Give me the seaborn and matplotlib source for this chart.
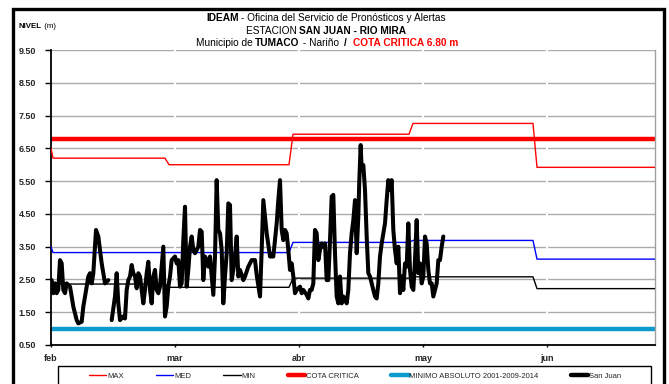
import numpy as np
import pandas as pd
import matplotlib
matplotlib.use("Agg")
import matplotlib.pyplot as plt
from matplotlib.lines import Line2D
from matplotlib.patches import Rectangle
import seaborn as sns

# ---------------- data ----------------
month_labels = ["feb", "mar", "abr", "may", "jun"]
month_ticks = [0, 31, 62, 93, 124]

ref_days = [0, 0.5, 28.5, 29.5, 59.5, 60.5, 89.5, 90.5, 120.5, 121.5, 151]
max_vals = [6.5, 6.2, 6.2, 6.0, 6.0, 6.93, 6.93, 7.26, 7.26, 5.92, 5.92]
med_vals = [3.5, 3.32, 3.32, 3.32, 3.32, 3.63, 3.63, 3.69, 3.69, 3.12, 3.12]
min_vals = [2.36, 2.36, 2.36, 2.26, 2.26, 2.54, 2.54, 2.58, 2.58, 2.22, 2.22]
cota_critica = 6.8
minimo_absoluto = 1.0

# San Juan observed levels (two segments, gap in record)
sj_days_a = [0.17, 0.58, 1.0, 1.42, 1.83, 2.25, 2.67, 3.08, 3.5, 3.92, 4.75, 5.17, 5.58,
             6.42, 6.83, 7.67, 8.08, 8.92, 9.33, 9.75, 10.17, 10.58, 11.25, 11.83, 12.67,
             13.08, 13.5, 14.33]
sj_vals_a = [2.48, 2.08, 2.38, 2.08, 2.18, 3.09, 2.99, 2.18, 2.08, 2.38, 2.28, 1.98, 1.67,
             1.26, 1.16, 1.21, 1.67, 2.28, 2.59, 2.69, 2.38, 2.69, 4.01, 3.81, 2.99,
             2.69, 2.38, 2.48]
sj_days_b = [15.17, 16.0, 16.42, 16.83, 17.25, 18.08, 18.5, 18.92, 19.33, 19.75, 20.17, 20.58,
             21.0, 21.42, 21.83, 22.25, 22.67, 23.08, 23.5, 23.92, 24.33, 24.75, 25.17, 25.58,
             26.0, 26.42, 26.83, 27.25, 27.67, 28.08, 28.5, 28.92, 29.33, 29.75, 30.17, 31.0,
             31.42, 31.83, 32.25, 32.67, 33.08, 33.5, 33.92, 34.33, 34.75, 35.17, 35.58, 36.0,
             36.42, 36.83, 37.25, 37.67, 38.08, 38.5, 38.92, 39.33, 39.75, 40.17, 40.58, 41.0,
             41.42, 41.83, 42.25, 42.67, 43.08, 43.5, 43.92, 44.33, 44.75, 45.17, 45.58, 46.0,
             46.42, 46.83, 47.25, 48.08, 48.5, 49.33, 50.17, 51.0, 51.42, 52.25, 52.67, 53.08,
             53.92, 54.75, 55.58, 56.42, 56.83, 57.25, 57.67, 58.08, 58.5, 58.92, 59.33, 59.75,
             60.17, 60.58, 61.0, 61.42, 62.25, 62.67, 63.08, 63.92, 64.33, 64.75, 65.17, 65.58,
             66.0, 66.42, 66.83, 67.25, 67.67, 68.08, 68.5, 68.92, 69.33, 69.75, 70.17, 70.58,
             71.0, 71.42, 71.83, 72.25, 72.67, 73.08, 73.5, 73.92, 74.33, 74.75, 75.17, 75.58,
             76.0, 76.42, 76.83, 77.08, 77.42, 77.67, 78.08, 78.5, 78.92, 79.33, 79.75, 80.17,
             80.58, 81.0, 81.42, 81.83, 82.25, 82.67, 83.08, 83.5, 83.92, 84.33, 84.75, 85.17,
             85.58, 86.0, 86.42, 86.83, 87.25, 87.67, 88.08, 88.5, 88.92, 89.33, 89.75, 90.17,
             90.58, 91.0, 91.42, 91.83, 92.25, 92.67, 93.08, 93.5, 93.92, 94.33, 94.75, 95.17,
             95.58, 96.0, 96.42, 96.83, 97.25, 97.67, 98.08]
sj_vals_b = [1.26, 1.98, 2.69, 1.77, 1.26, 1.37, 1.31, 2.18, 2.48, 2.59, 2.94, 2.69,
             2.59, 2.23, 2.69, 2.59, 2.18, 1.77, 2.18, 2.69, 3.04, 2.18, 1.77, 2.59,
             2.79, 2.18, 2.08, 2.28, 2.89, 3.5, 1.37, 1.67, 2.28, 2.59, 3.09, 3.2,
             2.99, 3.09, 2.28, 2.38, 3.70, 4.72, 2.28, 2.79, 3.5, 3.81, 3.4, 3.30,
             3.4, 3.5, 4.01, 3.96, 2.48, 3.2, 3.09, 2.89, 3.2, 2.59, 2.03, 3.2,
             5.53, 4.01, 3.91, 3.4, 1.77, 2.59, 3.30, 4.82, 4.77, 2.48, 2.79, 3.2,
             3.81, 2.59, 2.79, 2.48, 2.59, 2.89, 3.09, 3.09, 2.64, 1.98, 3.4, 4.92,
             3.91, 3.2, 3.2, 4.21, 4.92, 5.53, 4.01, 3.70, 4.01, 3.91, 3.4, 2.79,
             2.99, 2.59, 2.08, 2.18, 2.28, 2.08, 2.18, 2.03, 1.92, 2.18, 2.18, 2.38,
             4.01, 3.91, 3.09, 3.4, 3.60, 3.5, 3.60, 2.48, 2.48, 3.70, 5.03, 5.08,
             3.30, 1.98, 1.77, 2.59, 1.77, 1.98, 1.87, 1.77, 2.18, 3.30, 3.91, 4.31,
             4.92, 3.30, 4.42, 5.53, 6.6, 5.84, 5.99, 5.23, 3.81, 2.69, 2.59, 2.38,
             2.18, 1.98, 1.92, 2.38, 3.2, 3.60, 3.91, 4.21, 4.92, 5.53, 5.23, 5.53,
             4.01, 3.4, 2.99, 3.5, 2.08, 2.59, 2.18, 2.99, 2.89, 4.21, 2.79, 2.28,
             2.18, 3.09, 4.31, 2.69, 2.99, 2.38, 2.59, 3.81, 3.60, 2.79, 2.38, 2.38,
             1.98, 2.18, 2.38, 3.09, 3.09, 3.5, 3.81]

legend_labels = ["MAX", "MED", "MIN", "COTA CRITICA", "MINIMO ABSOLUTO 2001-2009-2014", "San Juan"]

# ---------------- figure ----------------
W, H = 669, 384
sns.set_theme(style="white")
plt.rcParams["font.family"] = ["Liberation Sans", "DejaVu Sans"]

fig = plt.figure(figsize=(W / 100, H / 100), dpi=100)
ax = fig.add_axes([51 / W, 1 - 345 / H, 604 / W, 295 / H])

ref = pd.DataFrame({"day": ref_days, "MAX": max_vals, "MED": med_vals, "MIN": min_vals})
ref["COTA"] = cota_critica
ref["MINABS"] = minimo_absoluto
sj = pd.concat([
    pd.DataFrame({"day": sj_days_a, "nivel": sj_vals_a, "seg": 0}),
    pd.DataFrame({"day": sj_days_b, "nivel": sj_vals_b, "seg": 1}),
])

red = "#ff0000"
blue = "#0000ff"
cyan = "#0e9acd"

# white separators at month ticks (breaks in grid)
for t in month_ticks[1:]:
    ax.axvline(t, color="white", lw=1.6, zorder=1)

sns.lineplot(data=ref, x="day", y="MINABS", color=cyan, lw=3.2, ax=ax, estimator=None, sort=False, zorder=2)
sns.lineplot(data=ref, x="day", y="COTA", color=red, lw=3.2, ax=ax, estimator=None, sort=False, zorder=2)
sns.lineplot(data=ref, x="day", y="MAX", color=red, lw=1.0, ax=ax, estimator=None, sort=False, zorder=3)
sns.lineplot(data=ref, x="day", y="MED", color=blue, lw=1.0, ax=ax, estimator=None, sort=False, zorder=3)
sns.lineplot(data=ref, x="day", y="MIN", color="black", lw=1.0, ax=ax, estimator=None, sort=False, zorder=3)
sns.lineplot(data=sj, x="day", y="nivel", units="seg", estimator=None, sort=False,
             color="black", lw=2.9, ax=ax, zorder=4)

ax.set_xlim(0, 151)
ax.set_ylim(0.5, 9.5)
ax.set_xlabel("")
ax.set_ylabel("")
ax.set_yticks(np.arange(0.5, 9.51, 1.0))
ax.set_yticklabels([f"{v:.2f}" for v in np.arange(0.5, 9.51, 1.0)], fontsize=6.5, fontweight="bold")
ax.set_xticks(month_ticks)
ax.set_xticklabels(month_labels, fontsize=6.5, fontweight="bold")
ax.set_axisbelow(True)
ax.grid(axis="y", color="#ababab", lw=1.0)
ax.grid(axis="x", visible=False)
for side in ["left", "bottom"]:
    ax.spines[side].set_color("black")
    ax.spines[side].set_linewidth(1.3)
ax.spines["right"].set_color("#a0a0a0")
ax.spines["right"].set_linewidth(1.0)
ax.spines["top"].set_visible(False)
ax.tick_params(axis="y", length=4, width=1, color="black", pad=7, left=True)
ax.tick_params(axis="x", length=3, width=1, color="black", pad=5, bottom=True, direction="inout")

# outer frame
fig.add_artist(Rectangle((13 / W, -0.05), (664 - 13) / W, 1 - 9 / H + 0.05, fill=False,
                         edgecolor="black", lw=2.4, transform=fig.transFigure, clip_on=False))

# rich title lines
renderer = fig.canvas.get_renderer()


def rich_line(pieces, y_px, cx_px, fs):
    texts = []
    for s, w, c in pieces:
        texts.append(fig.text(0, 1 - y_px / H, s, fontsize=fs, fontweight=w, color=c,
                              va="center", ha="left"))
    widths = [t.get_window_extent(renderer).width for t in texts]
    x = cx_px - sum(widths) / 2
    for t, wd in zip(texts, widths):
        t.set_x(x / W)
        x += wd


rich_line([("IDEAM", "bold", "black"), (" - Oficina del Servicio de Pronósticos y Alertas", "normal", "black")],
          18, 326, 7.3)
rich_line([("ESTACION ", "normal", "black"), ("SAN JUAN - RIO MIRA", "bold", "black")], 31, 326, 7.3)
rich_line([("Municipio de ", "normal", "black"), ("TUMACO", "bold", "black"), (" - Nariño  ", "normal", "black"),
           ("/  ", "bold", "black"), ("COTA CRITICA 6.80 m", "bold", red)], 43, 327, 7.3)
rich_line([("NIVEL", "bold", "black"), (" (m)", "normal", "black")], 27, 37, 5.7)

# legend (entries centred, frame drawn separately)
handles = [
    Line2D([], [], color=red, lw=1.0),
    Line2D([], [], color=blue, lw=1.0),
    Line2D([], [], color="black", lw=1.0),
    Line2D([], [], color=red, lw=3.2),
    Line2D([], [], color=cyan, lw=3.2),
    Line2D([], [], color="black", lw=3.2),
]
fig.add_artist(Rectangle((58 / W, -0.05), (651 - 58) / W, (384 - 366) / H + 0.05, fill=False,
                         edgecolor="black", lw=1.0, transform=fig.transFigure, clip_on=False))
leg = fig.legend(handles, legend_labels, loc="center",
                 bbox_to_anchor=(355 / W, 1 - 376 / H),
                 ncol=6, frameon=False, fontsize=5.5, handlelength=2.3, handletextpad=0.1,
                 columnspacing=4.2, borderaxespad=0, borderpad=0)

fig.savefig("out.png", dpi=100)
